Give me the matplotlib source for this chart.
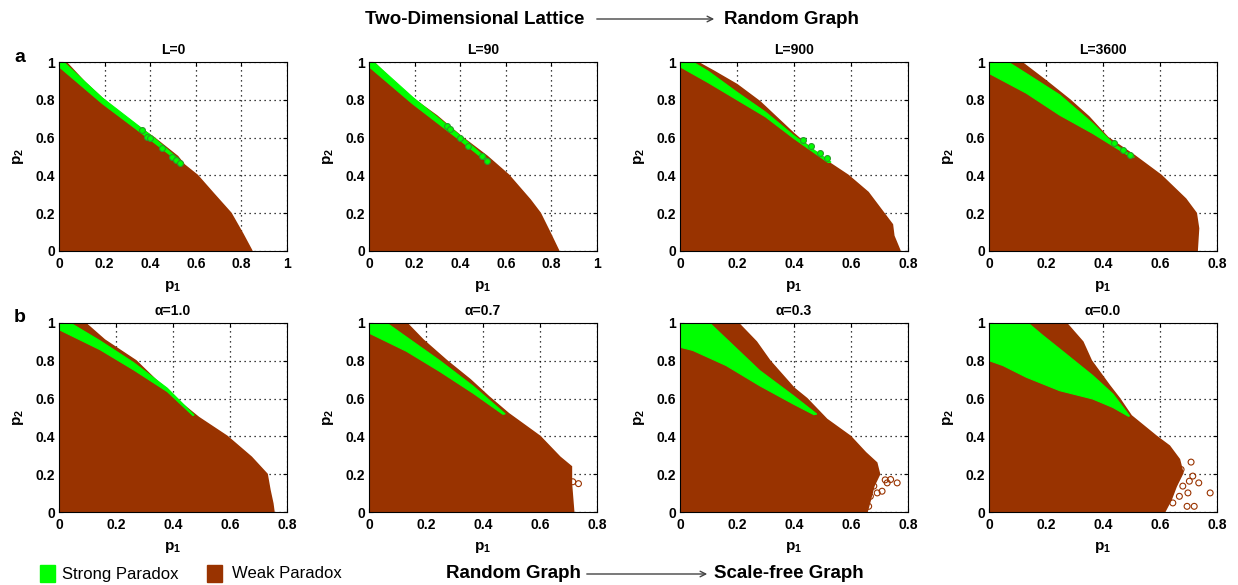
import matplotlib
matplotlib.use('Agg')

import matplotlib.pyplot as plt
from matplotlib.patches import Rectangle, FancyArrowPatch

plt.rcParams['font.family'] = ['Liberation Sans', 'DejaVu Sans']
plt.rcParams['mathtext.fontset'] = 'custom'
plt.rcParams['mathtext.rm'] = 'Liberation Sans'
plt.rcParams['mathtext.bf'] = 'Liberation Sans:bold'

BROWN = '#993300'
GREEN = '#00ff00'

# panel titles (row a: lattice rewiring L, row b: degree exponent alpha)
titles_a = ['L=0', 'L=90', 'L=900', 'L=3600']
titles_b = ['\u03b1=1.0', '\u03b1=0.7', '\u03b1=0.3', '\u03b1=0.0']
xmax_a = [1.0, 1.0, 0.8, 0.8]
xmax_b = [0.8, 0.8, 0.8, 0.8]

# outer boundary of the paradox region (p1, p2), top to bottom
edge_L0 = [(0.03, 1.0), (0.115, 0.89), (0.196, 0.80), (0.284, 0.71), (0.416, 0.60),
           (0.52, 0.50), (0.55, 0.455), (0.607, 0.40), (0.68, 0.30), (0.754, 0.20),
           (0.806, 0.09), (0.846, 0.0)]
edge_L90 = [(0.02, 1.0), (0.107, 0.893), (0.195, 0.804), (0.297, 0.715), (0.407, 0.603),
            (0.517, 0.502), (0.612, 0.402), (0.707, 0.27), (0.751, 0.20), (0.795, 0.093),
            (0.832, 0.0)]
edge_L900 = [(0.06, 1.0), (0.12, 0.95), (0.2, 0.88), (0.28, 0.79), (0.4, 0.62), (0.5, 0.49),
             (0.59, 0.40), (0.66, 0.31), (0.715, 0.20), (0.745, 0.14), (0.75, 0.08), (0.772, 0.0)]
edge_L3600 = [(0.113, 1.0), (0.2, 0.9), (0.283, 0.8), (0.35, 0.71), (0.417, 0.6), (0.51, 0.505),
              (0.604, 0.4), (0.69, 0.275), (0.727, 0.2), (0.735, 0.12), (0.73, 0.0)]
edge_a10 = [(0.092, 1.0), (0.16, 0.91), (0.27, 0.80), (0.40, 0.61), (0.49, 0.50), (0.59, 0.40),
            (0.675, 0.29), (0.73, 0.2), (0.74, 0.115), (0.75, 0.045), (0.754, 0.0)]
edge_a07 = [(0.132, 1.0), (0.19, 0.91), (0.273, 0.80), (0.355, 0.70), (0.42, 0.61), (0.49, 0.52),
            (0.60, 0.40), (0.67, 0.29), (0.71, 0.24), (0.71, 0.15), (0.718, 0.0)]
edge_a03 = [(0.204, 1.0), (0.268, 0.90), (0.315, 0.80), (0.40, 0.655), (0.445, 0.60), (0.515, 0.49),
            (0.598, 0.40), (0.651, 0.314), (0.69, 0.26), (0.70, 0.20), (0.68, 0.137),
            (0.668, 0.066), (0.656, 0.0)]
edge_a00 = [(0.271, 1.0), (0.329, 0.90), (0.359, 0.80), (0.423, 0.668), (0.458, 0.60),
            (0.499, 0.509), (0.586, 0.402), (0.633, 0.349), (0.668, 0.278), (0.68, 0.207),
            (0.657, 0.137), (0.639, 0.066), (0.616, 0.0)]

# strong paradox band: upper edge (from p2=1 to tip) and lower edge (from p1=0 to tip)
gup_L0 = [(0.02, 1.0), (0.19, 0.81), (0.41, 0.605), (0.54, 0.47)]
glo_L0 = [(0.0, 0.975), (0.19, 0.78), (0.41, 0.58), (0.53, 0.468)]
gup_L90 = [(0.02, 1.0), (0.195, 0.81), (0.40, 0.61), (0.53, 0.475)]
glo_L90 = [(0.0, 0.975), (0.19, 0.78), (0.40, 0.585), (0.52, 0.47)]
gup_L900 = [(0.045, 1.0), (0.10, 0.95), (0.2, 0.84), (0.3, 0.735), (0.4, 0.61), (0.53, 0.47)]
glo_L900 = [(0.0, 0.975), (0.1, 0.89), (0.2, 0.80), (0.3, 0.71), (0.4, 0.595), (0.52, 0.468)]
gup_L3600 = [(0.067, 1.0), (0.13, 0.94), (0.248, 0.826), (0.364, 0.675), (0.435, 0.57), (0.51, 0.497)]
glo_L3600 = [(0.0, 0.94), (0.131, 0.835), (0.248, 0.719), (0.364, 0.622), (0.50, 0.495)]
gup_a10 = [(0.04, 1.0), (0.145, 0.905), (0.262, 0.79), (0.38, 0.655), (0.474, 0.513)]
glo_a10 = [(0.0, 0.965), (0.145, 0.858), (0.262, 0.752), (0.38, 0.637), (0.47, 0.51)]
gup_a07 = [(0.062, 1.0), (0.132, 0.925), (0.249, 0.80), (0.366, 0.665), (0.478, 0.519)]
glo_a07 = [(0.0, 0.947), (0.132, 0.85), (0.249, 0.743), (0.366, 0.628), (0.47, 0.517)]
gup_a03 = [(0.104, 1.0), (0.162, 0.917), (0.28, 0.748), (0.398, 0.615), (0.48, 0.518)]
glo_a03 = [(0.0, 0.872), (0.045, 0.855), (0.162, 0.775), (0.28, 0.668), (0.398, 0.571), (0.47, 0.515)]
gup_a00 = [(0.137, 1.0), (0.189, 0.934), (0.248, 0.863), (0.364, 0.722), (0.435, 0.624), (0.493, 0.509)]
glo_a00 = [(0.0, 0.801), (0.049, 0.775), (0.131, 0.713), (0.248, 0.642), (0.364, 0.598),
           (0.435, 0.553), (0.49, 0.506)]

# isolated strong-paradox samples near the band tip
gpts_L0 = [(0.365, 0.641), (0.387, 0.605), (0.401, 0.596), (0.453, 0.543), (0.497, 0.499),
           (0.512, 0.481), (0.531, 0.467)]
gpts_L90 = [(0.341, 0.662), (0.356, 0.644), (0.40, 0.60), (0.436, 0.555), (0.495, 0.505),
            (0.517, 0.475)]
gpts_L900 = [(0.43, 0.585), (0.46, 0.555), (0.49, 0.52), (0.515, 0.49)]
gpts_L3600 = [(0.44, 0.57), (0.47, 0.535), (0.495, 0.51)]

# isolated weak-paradox samples beyond the boundary
bpts_a07 = [(0.735, 0.15), (0.715, 0.16)]
bpts_a03 = [(0.762, 0.154), (0.739, 0.172), (0.727, 0.154), (0.709, 0.11), (0.692, 0.101),
            (0.668, 0.083), (0.662, 0.03), (0.68, 0.137), (0.72, 0.17)]
bpts_a00 = [(0.776, 0.101), (0.736, 0.154), (0.709, 0.264), (0.72, 0.03), (0.695, 0.03),
            (0.698, 0.101), (0.715, 0.19), (0.703, 0.163), (0.68, 0.137), (0.668, 0.083),
            (0.645, 0.048), (0.674, 0.225)]

row_a = [(edge_L0, gup_L0, glo_L0, gpts_L0, []),
         (edge_L90, gup_L90, glo_L90, gpts_L90, []),
         (edge_L900, gup_L900, glo_L900, gpts_L900, []),
         (edge_L3600, gup_L3600, glo_L3600, gpts_L3600, [])]
row_b = [(edge_a10, gup_a10, glo_a10, [], []),
         (edge_a07, gup_a07, glo_a07, [], bpts_a07),
         (edge_a03, gup_a03, glo_a03, [], bpts_a03),
         (edge_a00, gup_a00, glo_a00, [], bpts_a00)]

W, H = 1238, 585
fig = plt.figure(figsize=(W / 100, H / 100), dpi=100)

lefts = [59, 369, 680, 989]
ax_w, ax_h = 228, 189
tops = [62, 323]


def draw_panel(ax, data, title, xmax):
    edge, gup, glo, gpts, bpts = data
    poly = [(0.0, 0.0), (0.0, 1.0)] + edge + [(edge[-1][0], 0.0)]
    ax.fill([p[0] for p in poly], [p[1] for p in poly], color=BROWN, lw=1.2, zorder=1)
    band = [(0.0, 1.0)] + gup + glo[::-1]
    ax.fill([p[0] for p in band], [p[1] for p in band], color=GREEN, lw=0.8, zorder=1.2)
    if gpts:
        ax.scatter([p[0] for p in gpts], [p[1] for p in gpts], s=18, facecolors=GREEN,
                   edgecolors='#2a9a2a', linewidths=0.8, zorder=1.3)
    if bpts:
        ax.scatter([p[0] for p in bpts], [p[1] for p in bpts], s=18, facecolors='none',
                   edgecolors=BROWN, linewidths=0.8, zorder=1.3)
    ax.set_xlim(0, xmax)
    ax.set_ylim(0, 1)
    step = 0.2
    xt = [round(i * step, 1) for i in range(int(round(xmax / step)) + 1)]
    ax.set_xticks(xt)
    ax.set_xticklabels(['0' if v == 0 else ('1' if v == 1 else '%g' % v) for v in xt])
    ax.set_yticks([0, 0.2, 0.4, 0.6, 0.8, 1])
    ax.set_yticklabels(['0', '0.2', '0.4', '0.6', '0.8', '1'])
    ax.set_axisbelow(True)
    ax.grid(True, ls=(0, (1, 3)), color='black', lw=0.9)
    ax.tick_params(axis='x', direction='in', length=3, top=True, labelsize=10, pad=4)
    ax.tick_params(axis='y', direction='in', length=3, right=True, labelsize=10, pad=3)
    for lab in ax.get_xticklabels() + ax.get_yticklabels():
        lab.set_fontweight('bold')
    for sp in ax.spines.values():
        sp.set_linewidth(0.8)
        sp.set_zorder(3)
    ax.set_title(title, fontsize=10, fontweight='bold', pad=6)
    ax.set_xlabel(r'$\mathbf{p}_\mathbf{1}$', fontsize=11, labelpad=6)
    ax.set_ylabel(r'$\mathbf{p}_\mathbf{2}$', fontsize=11, labelpad=7)


for row, (data_row, titles, xmaxs) in enumerate([(row_a, titles_a, xmax_a),
                                                  (row_b, titles_b, xmax_b)]):
    for col in range(4):
        ax = fig.add_axes([lefts[col] / W, 1 - (tops[row] + ax_h) / H, ax_w / W, ax_h / H])
        draw_panel(ax, data_row[col], titles[col], xmaxs[col])

# panel letters
fig.text(14 / W, 1 - 57 / H, 'a', fontsize=14, fontweight='bold', ha='left', va='center')
fig.text(14 / W, 1 - 318 / H, 'b', fontsize=14, fontweight='bold', ha='left', va='center')


# header and footer with arrows
def arrow_caption(y, left_text, x_left, x_a0, x_a1, right_text, x_right):
    yf = 1 - y / H
    fig.text(x_left / W, yf, left_text, fontsize=13.5, fontweight='bold', ha='left', va='center')
    fig.text(x_right / W, yf, right_text, fontsize=13.5, fontweight='bold', ha='left', va='center')
    fig.add_artist(FancyArrowPatch(
        (x_a0 / W, yf), (x_a1 / W, yf), transform=fig.transFigure,
        arrowstyle='->,head_length=4,head_width=2', color='#444444', lw=1))


arrow_caption(19, 'Two-Dimensional Lattice', 365, 594, 717, 'Random Graph', 724)
arrow_caption(574, 'Random Graph', 446, 584, 710, 'Scale-free Graph', 714)

# legend
fig.add_artist(Rectangle((40 / W, 1 - 582 / H), 15 / W, 17 / H, transform=fig.transFigure,
                         color=GREEN))
fig.text(62 / W, 1 - 574 / H, 'Strong Paradox', fontsize=12, ha='left', va='center')
fig.add_artist(Rectangle((207 / W, 1 - 582 / H), 15 / W, 17 / H, transform=fig.transFigure,
                         color=BROWN))
fig.text(232 / W, 1 - 574 / H, 'Weak Paradox', fontsize=12, ha='left', va='center')

fig.savefig('out.png', dpi=100)
